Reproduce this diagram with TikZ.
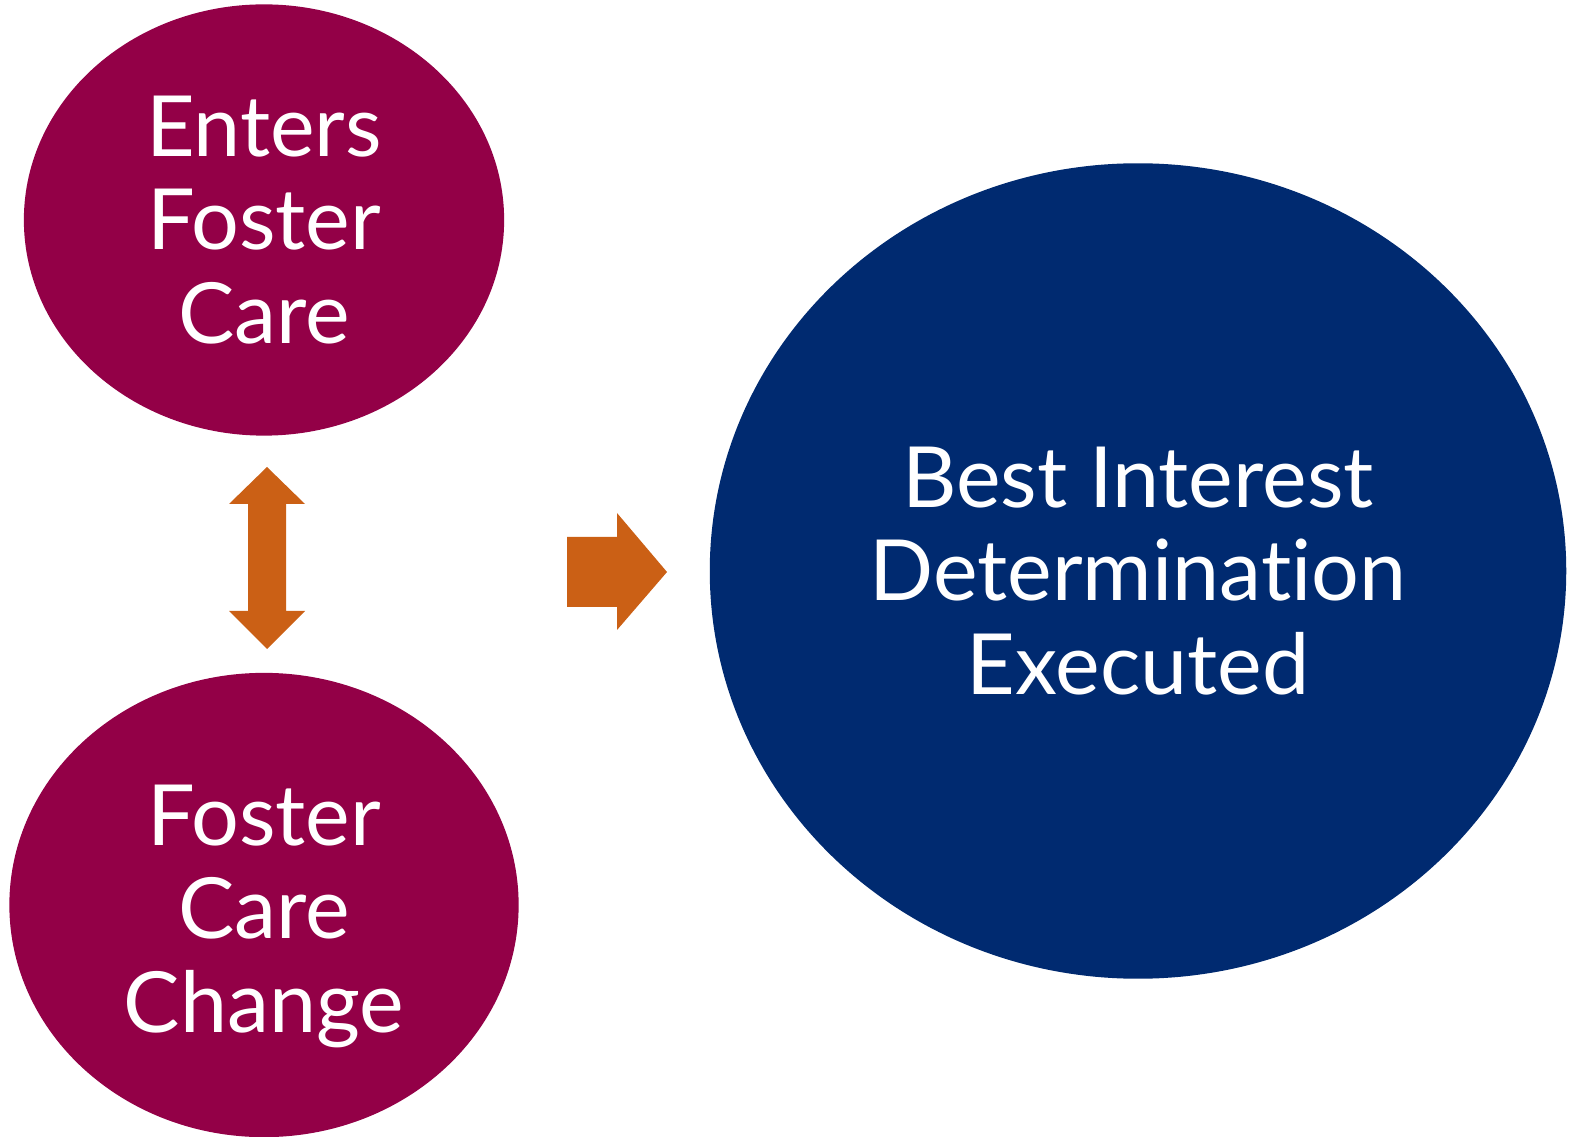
\documentclass[tikz,border=0pt]{standalone}
\usepackage{fontspec}
\setmainfont{Lato}[Ligatures=NoCommon]
\usepackage{tikz}
\usetikzlibrary{shapes,positioning,calc}
\definecolor{maroon}{RGB}{147,0,71}
\definecolor{navy}{RGB}{0,42,112}
\definecolor{burnt}{RGB}{203,96,21}

\begin{document}
\begin{tikzpicture}[
    x=0.01cm, y=-0.01cm,
    event/.style={ellipse, fill=maroon, text=white, inner sep=0pt,
                  align=center, font=\fontsize{24}{26.5}\selectfont},
    outcome/.style={ellipse, fill=navy, text=white, inner sep=0pt,
                    align=center, font=\fontsize{24}{26.5}\selectfont},
    blockarrow/.style={fill=burnt}
]
    \useasboundingbox (0, 0) rectangle (1582, 1137);

    % Events
    \node[event, minimum width=4.80cm, minimum height=4.31cm] (enters) at (264, 220) {Enters\\Foster\\Care};
    \node[event, minimum width=5.09cm, minimum height=4.64cm] (change) at (264, 905) {\\[-0.1cm]Foster\\Care\\Change};

    % Outcome
    \node[outcome, minimum width=8.56cm, minimum height=8.15cm] (bid) at (1138, 571) {Best Interest\\Determination\\Executed};

    % Arrows
    \fill[blockarrow] (267, 467) -- (305, 504) -- (286, 504) -- (286, 611) -- (305, 611)
        -- (267, 649) -- (229, 611) -- (248, 611) -- (248, 504) -- (229, 504) -- cycle;
    \fill[blockarrow] (567, 537) -- (617, 537) -- (617, 513) -- (667, 572)
        -- (617, 630) -- (617, 607) -- (567, 607) -- cycle;
\end{tikzpicture}
\end{document}
